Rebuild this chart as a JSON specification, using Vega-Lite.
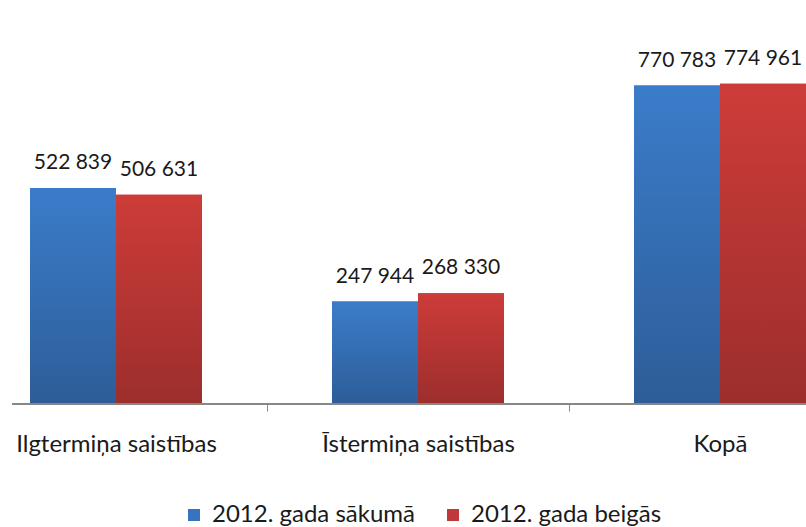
{
  "$schema": "https://vega.github.io/schema/vega-lite/v6.json",
  "width": 794,
  "height": 404,
  "autosize": {"type": "none"},
  "padding": {"left": 12, "top": 0, "right": 0, "bottom": 123},
  "background": "white",
  "config": {"view": {"stroke": null}, "font": "Lato"},
  "data": {
    "values": [
      {"category": "Ilgtermiņa saistības", "series": "2012. gada sākumā", "value": 522839, "label": "522 839"},
      {"category": "Ilgtermiņa saistības", "series": "2012. gada beigās", "value": 506631, "label": "506 631"},
      {"category": "Īstermiņa saistības", "series": "2012. gada sākumā", "value": 247944, "label": "247 944"},
      {"category": "Īstermiņa saistības", "series": "2012. gada beigās", "value": 268330, "label": "268 330"},
      {"category": "Kopā", "series": "2012. gada sākumā", "value": 770783, "label": "770 783"},
      {"category": "Kopā", "series": "2012. gada beigās", "value": 774961, "label": "774 961"}
    ]
  },
  "encoding": {
    "x": {
      "field": "category", "type": "nominal",
      "sort": ["Ilgtermiņa saistības", "Īstermiņa saistības", "Kopā"],
      "scale": {"range": [-47, 859], "paddingInner": 0, "paddingOuter": 0},
      "axis": {
        "title": null, "domain": false, "tickBand": "extent", "ticks": true,
        "tickColor": "#888888", "tickSize": 7, "labelAngle": 0,
        "labelFont": "Lato", "labelFontSize": 24, "labelColor": "#1a1a1a",
        "labelPadding": 33, "labelBaseline": "middle", "labelLimit": 400
      }
    },
    "xOffset": {
      "field": "series", "type": "nominal",
      "sort": ["2012. gada sākumā", "2012. gada beigās"],
      "scale": {"paddingInner": 0, "paddingOuter": 0.756}
    },
    "y": {
      "field": "value", "type": "quantitative",
      "scale": {"domain": [0, 978000], "nice": false, "zero": true},
      "axis": null
    }
  },
  "layer": [
    {
      "mark": {"type": "bar"},
      "encoding": {
        "color": {
          "field": "series", "type": "nominal",
          "sort": ["2012. gada sākumā", "2012. gada beigās"],
          "scale": {"domain": ["2012. gada sākumā", "2012. gada beigās"], "range": ["#3674c0", "#c0393a"]},
          "legend": {
            "title": null, "orient": "none", "direction": "horizontal",
            "legendX": 170, "legendY": 503, "padding": 0,
            "symbolType": "square", "symbolSize": 144, "symbolStrokeWidth": 0, "symbolOpacity": 1,
            "labelFont": "Lato", "labelFontSize": 24, "labelColor": "#1a1a1a",
            "labelOffset": 6, "columnPadding": 26, "labelLimit": 400
          }
        }
      }
    },
    {
      "transform": [{"filter": "datum.series == '2012. gada sākumā'"}],
      "mark": {"type": "bar", "color": {"gradient": "linear", "x1": 0, "y1": 0, "x2": 0, "y2": 1, "stops": [{"offset": 0, "color": "#3b7cca"}, {"offset": 1, "color": "#2d5d98"}]}}
    },
    {
      "transform": [{"filter": "datum.series == '2012. gada beigās'"}],
      "mark": {"type": "bar", "color": {"gradient": "linear", "x1": 0, "y1": 0, "x2": 0, "y2": 1, "stops": [{"offset": 0, "color": "#cd3c39"}, {"offset": 1, "color": "#9c2e2c"}]}}
    },
    {
      "mark": {"type": "text", "font": "Lato", "fontSize": 21, "color": "#1a1a1a", "baseline": "alphabetic", "dy": -19},
      "encoding": {"text": {"field": "label"}}
    },
    {
      "mark": {"type": "rule", "color": "#868686", "strokeWidth": 1},
      "encoding": {"y": {"datum": 0}, "x": null, "xOffset": null}
    }
  ]
}
